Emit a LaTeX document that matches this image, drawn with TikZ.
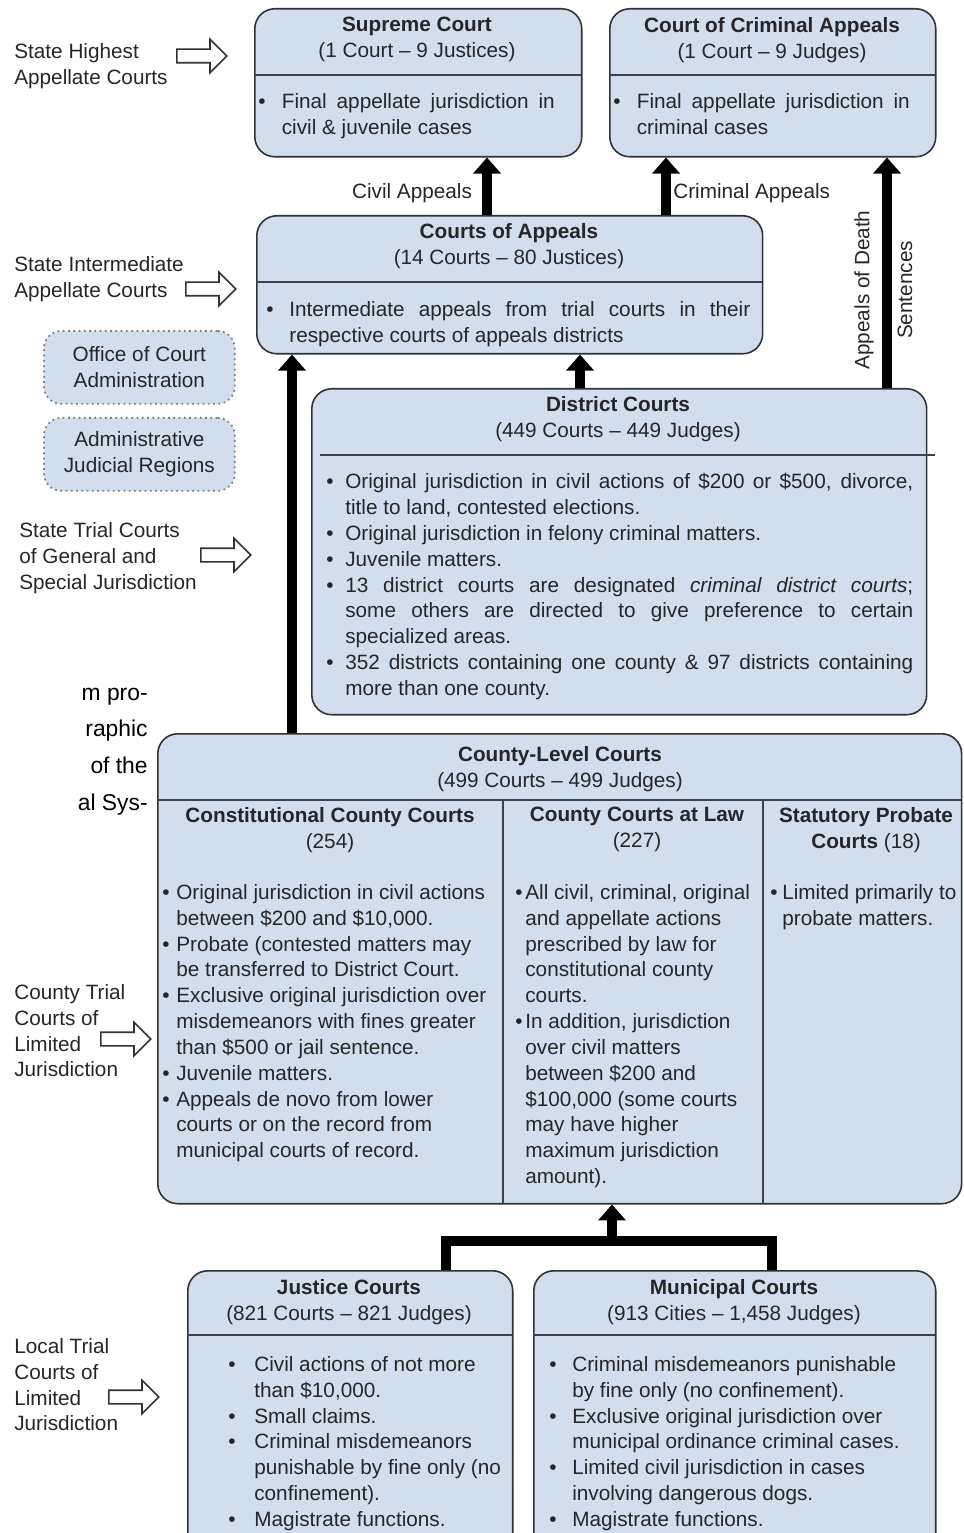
\documentclass[tikz,border=0pt]{standalone}
\usepackage{fontspec}
\setmainfont{Liberation Sans}
\usepackage{tikz}
\usetikzlibrary{arrows.meta, shapes.arrows, positioning}

\definecolor{courtfill}{RGB}{210,222,236}
\definecolor{courtline}{RGB}{48,50,54}
\definecolor{ruleline}{RGB}{58,68,80}
\definecolor{inktext}{RGB}{38,38,40}

% bullet, continuation indent and justified line
\newcommand{\itm}[1][0.3cm]{\makebox[#1][l]{\textbullet}}
\newcommand{\cnt}[1][0.3cm]{\hspace*{#1}}
\newcommand{\jst}[2]{\makebox[#1][s]{#2}}

\tikzset{
    courtbox/.style={draw=courtline, fill=courtfill, line width=0.9pt,
        rounded corners=0.4cm, anchor=north west, inner sep=0pt},
    adminbox/.style={draw=gray, dotted, fill=courtfill, line width=1pt,
        rounded corners=0.35cm, anchor=north west, inner sep=0pt,
        minimum width=3.82cm, minimum height=1.46cm, align=center,
        text=inktext, font=\fontsize{11.8}{14.7}\selectfont},
    txt/.style={inner sep=0pt, text=inktext, align=left, anchor=north west,
        font=\fontsize{11.8}{14.7}\selectfont},
    ttl/.style={txt, align=center, anchor=north},
    divider/.style={draw=ruleline, line width=1pt},
    appeal/.style={line width=5.5pt, -{Triangle[length=0.32cm, width=0.54cm]}},
    link/.style={line width=5.5pt},
    pointer/.style={single arrow, draw=gray!40!black, fill=white, line width=0.9pt,
        minimum height=1cm, single arrow head extend=0.2cm, inner sep=0.12cm,
        anchor=west},
    pagefrag/.style={inner sep=0pt, text=black, anchor=base east,
        font=\fontsize{13}{20}\selectfont}
}

\begin{document}
\begin{tikzpicture}[x=0.02cm, y=-0.02cm]
    \useasboundingbox (0,0) rectangle (963,1533);
    \clip (0,0) rectangle (963,1533);

    % Draw the court boxes
    \node[courtbox, minimum width=6.54cm, minimum height=2.96cm] (sc) at (254,8) {};
    \node[courtbox, minimum width=6.52cm, minimum height=2.96cm] (cca) at (609,8) {};
    \node[courtbox, minimum width=10.12cm, minimum height=2.76cm] (coa) at (256,215) {};
    \node[courtbox, minimum width=12.3cm, minimum height=6.52cm] (dc) at (311,388) {};
    \node[courtbox, minimum width=16.08cm, minimum height=9.4cm] (clc) at (157,733) {};
    \node[courtbox, minimum width=6.5cm, minimum height=5.8cm] (jc) at (187,1270) {};
    \node[courtbox, minimum width=8.04cm, minimum height=5.8cm] (mc) at (533,1270) {};

    % Draw the administration boxes
    \node[adminbox] (oca) at (43,330) {Office of Court\\Administration};
    \node[adminbox] (ajr) at (43,417) {Administrative\\Judicial Regions};

    % Draw the header dividers
    \draw[divider] (254,75) -- (581,75);
    \draw[divider] (609,75) -- (935,75);
    \draw[divider] (256,282) -- (762,282);
    \draw[divider] (320,455) -- (935,455);
    \draw[divider] (157,800) -- (961,800);
    \draw[divider] (503,800) -- (503,1203);
    \draw[divider] (763,800) -- (763,1203);
    \draw[divider] (187,1335) -- (512,1335);
    \draw[divider] (533,1335) -- (935,1335);

    % Court titles
    \node[ttl] (sc-title) at (417,17) {\textbf{Supreme Court}\\(1 Court – 9 Justices)};
    \node[ttl] (cca-title) at (772,17) {\textbf{Court of Criminal Appeals}\\(1 Court – 9 Judges)};
    \node[ttl] (coa-title) at (509,223) {\textbf{Courts of Appeals}\\(14 Courts – 80 Justices)};
    \node[ttl] (dc-title) at (618,396) {\textbf{District Courts}\\(449 Courts – 449 Judges)};
    \node[ttl] (clc-title) at (560,746) {\textbf{County-Level Courts}\\(499 Courts – 499 Judges)};
    \node[ttl] (ccc-title) at (330,807) {\textbf{Constitutional County Courts}\\(254)};
    \node[ttl] (ccl-title) at (637,807) {\textbf{County Courts at Law}\\(227)};
    \node[ttl] (spc-title) at (866,807) {\textbf{Statutory Probate}\\\textbf{Courts} (18)};
    \node[ttl] (jc-title) at (349,1279) {\textbf{Justice Courts}\\(821 Courts – 821 Judges)};
    \node[ttl] (mc-title) at (734,1279) {\textbf{Municipal Courts}\\(913 Cities – 1,458 Judges)};

    % Court jurisdictions
    \node[txt] (sc-body) at (258,93) {\itm[0.47cm]\jst{5.46cm}{Final appellate jurisdiction in}\\
        \cnt[0.47cm]civil \& juvenile cases};
    \node[txt] (cca-body) at (613,93) {\itm[0.47cm]\jst{5.46cm}{Final appellate jurisdiction in}\\
        \cnt[0.47cm]criminal cases};
    \node[txt] (coa-body) at (266,301) {\itm[0.46cm]\jst{9.22cm}{Intermediate appeals from trial courts in their}\\
        \cnt[0.46cm]respective courts of appeals districts};
    \node[txt] (dc-body) at (326,473) {\itm[0.38cm]\jst{11.36cm}{Original jurisdiction in civil actions of \$200 or \$500, divorce,}\\
        \cnt[0.38cm]title to land, contested elections.\\
        \itm[0.38cm]Original jurisdiction in felony criminal matters.\\
        \itm[0.38cm]Juvenile matters.\\
        \itm[0.38cm]\jst{11.36cm}{13 district courts are designated \emph{criminal district courts};}\\
        \cnt[0.38cm]\jst{11.36cm}{some others are directed to give preference to certain}\\
        \cnt[0.38cm]specialized areas.\\
        \itm[0.38cm]\jst{11.36cm}{352 districts containing one county \& 97 districts containing}\\
        \cnt[0.38cm]more than one county.};
    \node[txt] (ccc-body) at (162,884) {\itm[0.28cm]Original jurisdiction in civil actions\\
        \cnt[0.28cm]between \$200 and \$10,000.\\
        \itm[0.28cm]Probate (contested matters may\\
        \cnt[0.28cm]be transferred to District Court.\\
        \itm[0.28cm]Exclusive original jurisdiction over\\
        \cnt[0.28cm]misdemeanors with fines greater\\
        \cnt[0.28cm]than \$500 or jail sentence.\\
        \itm[0.28cm]Juvenile matters.\\
        \itm[0.28cm]Appeals de novo from lower\\
        \cnt[0.28cm]courts or on the record from\\
        \cnt[0.28cm]municipal courts of record.};
    \node[txt] (ccl-body) at (515,884) {\itm[0.2cm]All civil, criminal, original\\
        \cnt[0.2cm]and appellate actions\\
        \cnt[0.2cm]prescribed by law for\\
        \cnt[0.2cm]constitutional county\\
        \cnt[0.2cm]courts.\\
        \itm[0.2cm]In addition, jurisdiction\\
        \cnt[0.2cm]over civil matters\\
        \cnt[0.2cm]between \$200 and\\
        \cnt[0.2cm]\$100,000 (some courts\\
        \cnt[0.2cm]may have higher\\
        \cnt[0.2cm]maximum jurisdiction\\
        \cnt[0.2cm]amount).};
    \node[txt] (spc-body) at (770,884) {\itm[0.24cm]Limited primarily to\\
        \cnt[0.24cm]probate matters.};
    \node[txt] (jc-body) at (228,1356) {\itm[0.52cm]Civil actions of not more\\
        \cnt[0.52cm]than \$10,000.\\
        \itm[0.52cm]Small claims.\\
        \itm[0.52cm]Criminal misdemeanors\\
        \cnt[0.52cm]punishable by fine only (no\\
        \cnt[0.52cm]confinement).\\
        \itm[0.52cm]Magistrate functions.};
    \node[txt] (mc-body) at (549,1356) {\itm[0.46cm]Criminal misdemeanors punishable\\
        \cnt[0.46cm]by fine only (no confinement).\\
        \itm[0.46cm]Exclusive original jurisdiction over\\
        \cnt[0.46cm]municipal ordinance criminal cases.\\
        \itm[0.46cm]Limited civil jurisdiction in cases\\
        \cnt[0.46cm]involving dangerous dogs.\\
        \itm[0.46cm]Magistrate functions.};

    % Level labels on the left
    \node[txt] (lab-high) at (14,43) {State Highest\\Appellate Courts};
    \node[txt] (lab-inter) at (14,256) {State Intermediate\\Appellate Courts};
    \node[txt] (lab-trial) at (19,522) {State Trial Courts\\of General and\\Special Jurisdiction};
    \node[txt] (lab-county) at (14,984) {County Trial\\Courts of\\Limited\\Jurisdiction};
    \node[txt] (lab-local) at (14,1338) {Local Trial\\Courts of\\Limited\\Jurisdiction};

    % Draw hollow pointers
    \foreach \pn/\px/\py in {high/176/56, inter/185/289, trial/200/555, county/100/1039, local/108/1397}
        \node[pointer] (ptr-\pn) at (\px,\py) {};

    % Cut-off text of the page
    \foreach \ft [count=\i] in {m pro-, raphic, of the, al Sys-}
        \node[pagefrag] (frag\i) at (148,{700+(\i-1)*36.7}) {\ft};

    % Appeal routes
    \coordinate (civx) at (487,0);
    \coordinate (crimx) at (666,0);
    \coordinate (deathx) at (887,0);
    \coordinate (distx) at (580,0);
    \coordinate (cntyx) at (292,0);
    \coordinate (lowx) at (612,0);
    \coordinate (jcx) at (446,0);
    \coordinate (mcx) at (772,0);
    \coordinate (bar) at (0,1241);

    \draw[appeal] (coa.north -| civx) -- (sc.south -| civx);
    \draw[appeal] (coa.north -| crimx) -- (cca.south -| crimx);
    \draw[appeal] (dc.north -| deathx) -- (cca.south -| deathx);
    \draw[appeal] (dc.north -| distx) -- (coa.south -| distx);
    \draw[appeal] (clc.north -| cntyx) -- (coa.south -| cntyx);
    \draw[link] (jc.north -| jcx) -- (jcx |- bar) -- (mcx |- bar) -- (mc.north -| mcx);
    \draw[appeal] (lowx |- bar) -- (clc.south -| lowx);

    % Route labels
    \node[txt, anchor=center] (civ-lab) at (412,193) {Civil Appeals};
    \node[txt, anchor=west] (crim-lab) at (673,193) {Criminal Appeals};
    \node[txt, anchor=center, rotate=90] (death-lab) at (864,290) {Appeals of Death};
    \node[txt, anchor=center, rotate=90] (sent-lab) at (905,290) {Sentences};
\end{tikzpicture}
\end{document}
